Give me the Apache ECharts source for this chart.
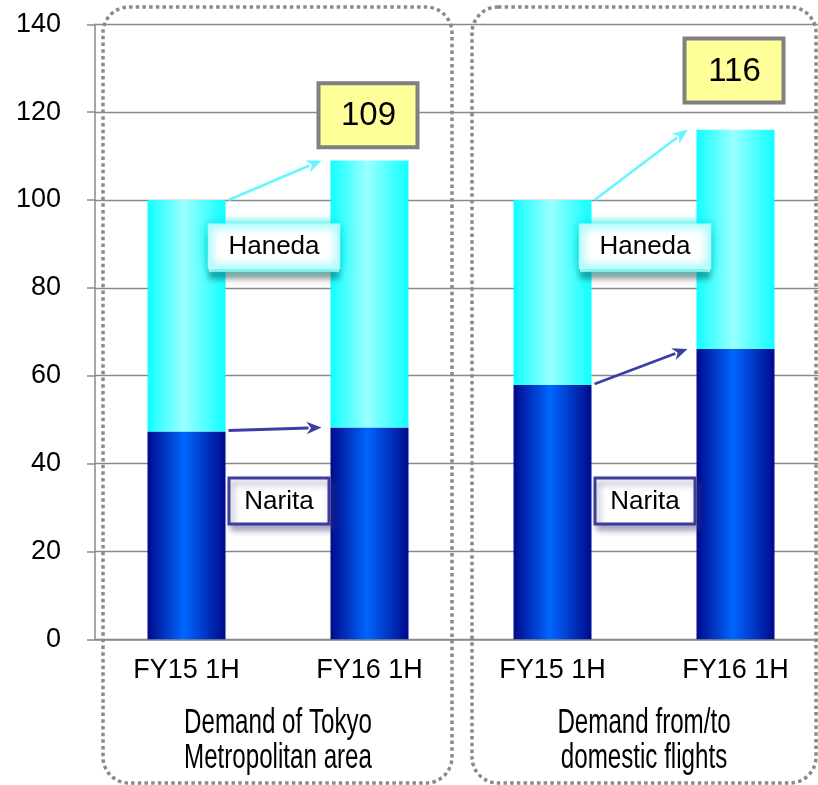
<!DOCTYPE html>
<html>
<head>
<meta charset="utf-8">
<script src="https://cdn.jsdelivr.net/npm/echarts@6/dist/echarts.min.js"></script>
<style>
  html, body { margin: 0; padding: 0; background: #fff; overflow: hidden; }
  #main { width: 827px; height: 785px; }
</style>
</head>
<body>
<div id="main"></div>
<script>
// Half-year demand index (FY15 1H = 100), stacked Narita + Haneda
const periods = ['FY15 1H', 'FY16 1H', 'FY15 1H', 'FY16 1H'];
const groupLines = [['Demand of Tokyo', 'Metropolitan area'], ['Demand from/to', 'domestic flights']];
const groups = groupLines.map(l => l.join('\n'));
const narita = [47.3, 48.2, 57.9, 66.1];
const haneda = [52.7, 60.8, 42.1, 49.9];
const growthLabels = [109, 116];          // totals of the FY16 1H bars
const growthIndex = [1, 3];               // bars carrying those totals
const yMin = 0, yMax = 140, yStep = 20;

const GRAY = '#8a8a8a';
const FONT = 'Liberation Sans, Arial, sans-serif';

function barGradient(edge, mid) {
  return new echarts.graphic.LinearGradient(0, 0, 1, 0, [
    { offset: 0, color: edge },
    { offset: 0.47, color: mid },
    { offset: 1, color: edge }
  ]);
}

const chart = echarts.init(document.getElementById('main'), null, { renderer: 'canvas' });

const option = {
  animation: false,
  backgroundColor: '#fff',
  grid: { left: 95, top: 24.3, right: 0, height: 615, containLabel: false },
  xAxis: [
    {
      type: 'category',
      data: periods,
      position: 'bottom',
      axisLine: { lineStyle: { color: GRAY, width: 1.5 } },
      axisTick: { length: 48, lineStyle: { color: GRAY, width: 1.5 } },
      axisLabel: { fontSize: 27, color: '#000', margin: 18, fontFamily: FONT }
    },
    {
      type: 'category',
      data: groups,
      position: 'bottom',
      axisLine: { show: false },
      axisTick: { length: 105, lineStyle: { color: GRAY, width: 1.5 } },
      axisLabel: { show: false }
    }
  ],
  yAxis: {
    type: 'value',
    min: yMin, max: yMax, interval: yStep,
    axisLine: { show: true, lineStyle: { color: GRAY, width: 1.5 } },
    axisTick: { show: true, length: 8, lineStyle: { color: GRAY, width: 1.5 } },
    splitLine: { lineStyle: { color: GRAY, width: 1.3 } },
    axisLabel: { fontSize: 27, color: '#000', margin: 34, fontFamily: FONT }
  },
  series: [
    {
      name: 'Narita', type: 'bar', stack: 'total', xAxisIndex: 0,
      barWidth: 78, data: narita,
      itemStyle: { color: barGradient('#000a8c', '#0066ff') }
    },
    {
      name: 'Haneda', type: 'bar', stack: 'total', xAxisIndex: 0,
      barWidth: 78, data: haneda,
      itemStyle: { color: barGradient('#10ffff', '#9affff') }
    }
  ]
};
chart.setOption(option);

// ---- annotations placed through the axes ----
const toPx = (i, v) => chart.convertToPixel({ gridIndex: 0 }, [i, v]);
const halfBar = 39;
const stackTop = i => narita[i] + haneda[i];

function arrow(x1, y1, x2, y2, color, w, head) {
  const a = Math.atan2(y2 - y1, x2 - x1);
  const c = Math.cos(a), s = Math.sin(a);
  const bx = x2 - head * c, by = y2 - head * s;
  const hw = head * 0.42;
  return [
    { type: 'line', z: 100, shape: { x1, y1, x2: bx + 2 * c, y2: by + 2 * s },
      style: { stroke: color, lineWidth: w } },
    { type: 'polygon', z: 100,
      shape: { points: [[x2, y2], [bx + hw * s, by - hw * c], [x2 - head * 0.7 * c, y2 - head * 0.7 * s], [bx - hw * s, by + hw * c]] },
      style: { fill: color } }
  ];
}

function labelBox(cx, cy, w, h, text, kind) {
  const els = [];
  if (kind === 'haneda') {
    els.push({ type: 'rect', z: 99, shape: { x: cx - w / 2, y: cy - h / 2 + 4, width: w, height: h },
      style: { fill: '#fff', shadowBlur: 6, shadowOffsetY: 7, shadowColor: 'rgba(0,0,0,0.4)' } });
    els.push({ type: 'rect', z: 100, shape: { x: cx - w / 2, y: cy - h / 2, width: w, height: h },
      style: { fill: '#fff', stroke: '#b4ffff', lineWidth: 2.5, shadowBlur: 10, shadowColor: 'rgba(0,230,230,1)' } });
  } else {
    els.push({ type: 'rect', z: 100, shape: { x: cx - w / 2, y: cy - h / 2, width: w, height: h },
      style: { fill: '#fff', stroke: '#3c3c9c', lineWidth: 3, shadowBlur: 6, shadowOffsetX: 3, shadowOffsetY: 5, shadowColor: 'rgba(60,60,120,0.45)' } });
  }
  els.push({ type: 'text', z: 101, style: { text, x: cx, y: cy + 1, align: 'center', verticalAlign: 'middle',
    fontSize: 26, fontFamily: FONT, fill: '#000' } });
  return els;
}

const graphics = [];
const base = toPx(0, 0)[1];
const catW = toPx(1, 0)[0] - toPx(0, 0)[0];

for (let g = 0; g < 2; g++) {
  const a = 2 * g, b = 2 * g + 1;
  const xa = toPx(a, 0)[0], xb = toPx(b, 0)[0];
  const mid = (xa + xb) / 2;

  // growth arrows: Haneda (stack top) and Narita
  graphics.push(...arrow(xa + halfBar + 3, toPx(a, stackTop(a))[1], xb - halfBar - 9, toPx(b, stackTop(b))[1], '#66f6ff', 2.6, 15));
  graphics.push(...arrow(xa + halfBar + 3, toPx(a, narita[a])[1] - 1, xb - halfBar - 9, toPx(b, narita[b])[1], '#3d3da6', 2.8, 15));

  // series tags
  graphics.push(...labelBox(mid - 4 + 5 * g, toPx(a, 89.5)[1], 130, 43, 'Haneda', 'haneda'));
  graphics.push(...labelBox(mid + 1, toPx(a, 31.5)[1], 100, 46, 'Narita', 'narita'));

  // group caption under the period labels (condensed type)
  groupLines[g].forEach((line, k) => {
    graphics.push({ type: 'text', z: 101, x: mid, y: base + 84 + 35 * k, scaleX: 0.69,
      style: { text: line, x: 0, y: 0, align: 'center', verticalAlign: 'middle',
        fontSize: 35, fontFamily: FONT, fill: '#000' } });
  });

  // dotted rounded frame around each group
  const left = xa - catW / 2;
  const right = xb + catW / 2;
  const x0 = g === 0 ? left + 8 : left + 11;
  const x1 = g === 0 ? right - 9 : right - 11;
  graphics.push({ type: 'rect', z: 102, shape: { x: x0, y: 7, width: x1 - x0, height: 776, r: 26 },
    style: { fill: 'none', stroke: GRAY, lineWidth: 3.5, lineDash: [3.5, 3.2] } });
}

// yellow total tags above FY16 1H bars
const tagCenter = [119.3, 129.5];
growthIndex.forEach((idx, k) => {
  const [cx, cy] = toPx(idx, tagCenter[k]);
  graphics.push({ type: 'rect', z: 100, shape: { x: cx - 50 - 1, y: cy - 32, width: 99, height: 64 },
    style: { fill: '#ffff99', stroke: '#808080', lineWidth: 4 } });
  graphics.push({ type: 'text', z: 101, style: { text: String(growthLabels[k]), x: cx - 1, y: cy + 1,
    align: 'center', verticalAlign: 'middle', fontSize: 33, fontFamily: FONT, fill: '#000' } });
});

chart.setOption({ graphic: { elements: graphics } });
</script>
</body>
</html>
